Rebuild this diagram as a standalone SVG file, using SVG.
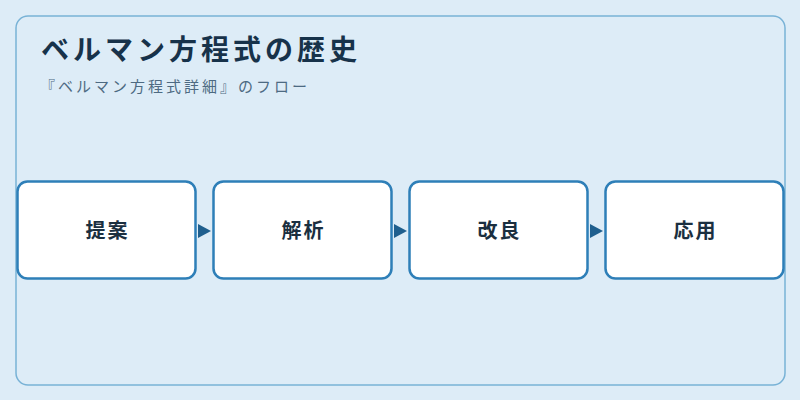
<svg xmlns="http://www.w3.org/2000/svg" width="800" height="400" viewBox="0 0 800 400">
<defs>
<style>
.node rect{fill:#ffffff;stroke:#2e7fb8;stroke-width:2.5}
.node text{font-family:"Noto Sans CJK JP","Noto Sans",sans-serif;font-size:20px;font-weight:bold;fill:#1b2f40;text-anchor:middle;dominant-baseline:central;letter-spacing:2px}
.arrow{fill:#1f5f8e}
</style>
</defs>
<rect x="0" y="0" width="800" height="400" fill="#ddecf7"/>
<rect x="16" y="16" width="769" height="369" rx="12" fill="#ddecf7" stroke="#78b2d6" stroke-width="1.5"/>
<text x="41" y="60" font-family="'Noto Sans CJK JP','Noto Sans',sans-serif" font-size="28" font-weight="bold" letter-spacing="4" fill="#17324a">ベルマン方程式の歴史</text>
<text x="40" y="92" font-family="'Noto Sans CJK JP','Noto Sans',sans-serif" font-size="15" letter-spacing="3" fill="#4d6a82">『ベルマン方程式詳細』のフロー</text>
<g id="connectors">
<polygon class="arrow" points="198,224 211,231 198,238"/>
<polygon class="arrow" points="394,224 407,231 394,238"/>
<polygon class="arrow" points="590,224 603,231 590,238"/>
</g>
<g id="node1" class="node"><rect x="17.5" y="181.5" width="178" height="97" rx="10"/><text x="107.5" y="229">提案</text></g>
<g id="node2" class="node"><rect x="213.5" y="181.5" width="178" height="97" rx="10"/><text x="303.5" y="229">解析</text></g>
<g id="node3" class="node"><rect x="409.5" y="181.5" width="178" height="97" rx="10"/><text x="499.5" y="229">改良</text></g>
<g id="node4" class="node"><rect x="605.5" y="181.5" width="178" height="97" rx="10"/><text x="695.5" y="229">応用</text></g>
</svg>
